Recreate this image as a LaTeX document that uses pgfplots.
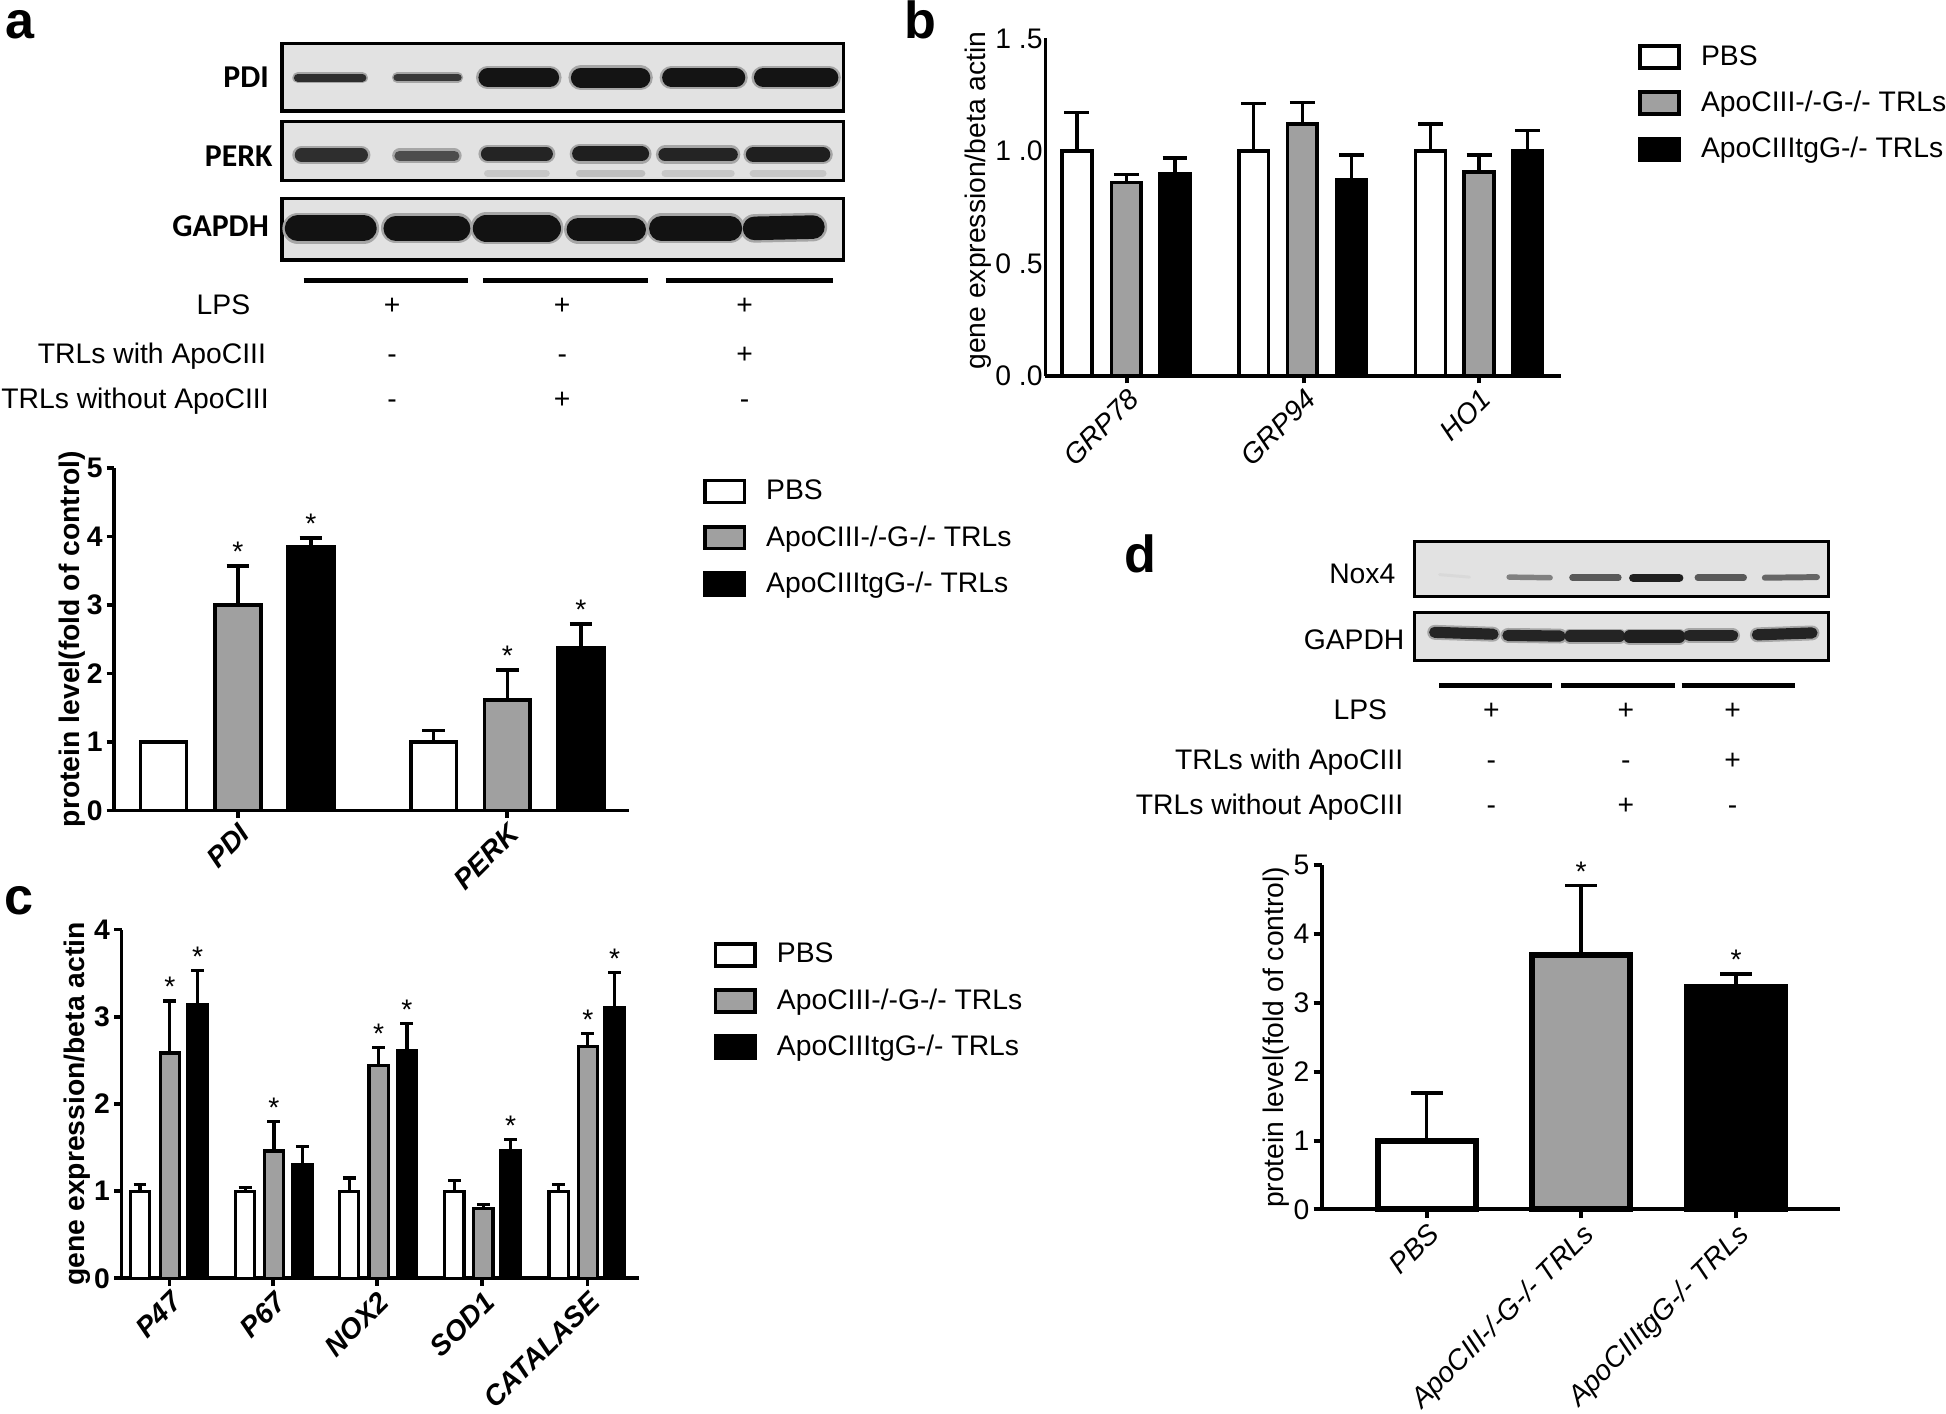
\documentclass[border=0pt]{standalone}
\usepackage{fontspec}
\setmainfont{Liberation Sans}
\newfontfamily\carlito{Carlito}
\usepackage{pgfplots}
\pgfplotsset{compat=1.18}
\definecolor{bargray}{RGB}{160,160,160}
\definecolor{blotbg}{RGB}{226,226,226}
\newcommand{\fs}{\fontsize{11.4}{13}\selectfont}
\pgfplotsset{
  gp/.style={anchor=south west, scale only axis, axis lines=left,
    axis line style={-, line width=1.5pt}, tick style={black, line width=1.5pt},
    tick align=outside, major tick length=3pt, enlargelimits=false, ymin=0, clip=false,
    /pgf/number format/assume math mode=true, tick label style={font=\fs},
    xticklabel style={rotate=45, anchor=north east, inner sep=1pt},
    yticklabel style={inner sep=1.5pt},
    legend cell align=left,
    legend style={draw=none, fill=none, inner sep=0pt, column sep=8pt, font=\fs,
      nodes={inner sep=0pt, minimum height=18.6pt}, anchor=north west}},
  boxlegend/.style={legend image code/.code={\draw[##1, line width=1.5pt] (0pt,-4.4pt) rectangle (16pt,4.4pt);}},
  bars/.style 2 args={ybar, bar shift=0pt, bar width=#1, draw=black, line width=#2, boxlegend,
    error bars/y dir=plus, error bars/y explicit},
  eb/.style 2 args={error bars/error bar style={line width=#1, black},
    error bars/error mark options={rotate=90, line width=#1, black, mark size=#2}},
  stars/.style={forget plot, draw=none, mark=none, nodes near coords={*},
    nodes near coords align=above, every node near coord/.append style={font=\fs, inner sep=1.5pt, black}},
  blot/.style={anchor=north west, scale only axis, xtick=\empty, ytick=\empty, line width=1.3pt,
    axis background/.style={fill=blotbg}, y dir=reverse, enlargelimits=false},
  halo/.style={line width=#1, black!35, line cap=round},
  band/.style 2 args={line width=#1, black!#2, line cap=round},
}
\begin{document}
\begin{tikzpicture}[x=0.5pt,y=-0.5pt]
\useasboundingbox (0,0) rectangle (1568,1139);

% ---------------- panel letters
\node[anchor=base west, font=\bfseries\fontsize{21}{22}\selectfont, inner sep=0pt] at (4,31) {a};
\node[anchor=base west, font=\bfseries\fontsize{21}{22}\selectfont, inner sep=0pt] at (728,31) {b};
\node[anchor=base west, font=\bfseries\fontsize{21}{22}\selectfont, inner sep=0pt] at (3,737) {c};
\node[anchor=base west, font=\bfseries\fontsize{21}{22}\selectfont, inner sep=0pt] at (906,461) {d};

% ---------------- canvas for the lane-group lines
\begin{axis}[anchor=south west, at={(0pt,-569.5pt)}, scale only axis, width=784pt, height=569.5pt,
  hide axis, xmin=0, xmax=1568, ymin=0, ymax=1139, y dir=reverse, clip=false]
\addplot[black, line width=2pt] coordinates {(244.6,226.2) (377,226.2)};
\addplot[black, line width=2pt] coordinates {(389,226.2) (521.9,226.2)};
\addplot[black, line width=2pt] coordinates {(536.6,226.2) (670.8,226.2)};
\addplot[black, line width=2pt] coordinates {(1159.6,552.5) (1250.6,552.5)};
\addplot[black, line width=2pt] coordinates {(1258,552.5) (1349.5,552.5)};
\addplot[black, line width=2pt] coordinates {(1355,552.5) (1446,552.5)};
\end{axis}

% ---------------- panel a blots
\begin{axis}[blot, at={(113.6pt,-17.45pt)}, width=226.25pt, height=27.25pt,
  xmin=227.2, xmax=679.7, ymin=34.9, ymax=89.4]
\addplot[halo=4.5pt] coordinates {(240,62.6) (292,62.6)};
\addplot[halo=4.2pt] coordinates {(320,62.6) (369,62.6)};
\addplot[halo=9.5pt] coordinates {(393,62.6) (443,62.6)};
\addplot[halo=10pt] coordinates {(468,62.6) (516,62.6)};
\addplot[halo=9.5pt] coordinates {(541,62.6) (593,62.6)};
\addplot[halo=9.5pt] coordinates {(615,62.6) (668,62.6)};
\addplot[band={3.2pt}{82}] coordinates {(240,62.6) (292,62.6)};
\addplot[band={3pt}{78}] coordinates {(320,62.6) (369,62.6)};
\addplot[band={7.5pt}{92}] coordinates {(393,62.6) (443,62.6)};
\addplot[band={8pt}{92}] coordinates {(468,62.6) (516,62.6)};
\addplot[band={7.5pt}{92}] coordinates {(541,62.6) (593,62.6)};
\addplot[band={7.5pt}{92}] coordinates {(615,62.6) (668,62.6)};
\end{axis}
\begin{axis}[blot, at={(113.6pt,-49pt)}, width=226.25pt, height=23.8pt,
  xmin=227.2, xmax=679.7, ymin=98, ymax=145.6]
\addplot[band={3pt}{22}] coordinates {(393,139.7) (440,139.7)};
\addplot[band={3pt}{25}] coordinates {(467,139.7) (517,139.7)};
\addplot[band={3pt}{22}] coordinates {(536,139.7) (589,139.7)};
\addplot[band={3pt}{22}] coordinates {(607,139.7) (663,139.7)};
\addplot[halo=7.5pt] coordinates {(243,124.9) (291,124.9)};
\addplot[halo=6pt] coordinates {(322,125.5) (366,125.5)};
\addplot[halo=7.5pt] coordinates {(393,124) (440,124)};
\addplot[halo=8pt] coordinates {(467,124) (517,124)};
\addplot[halo=7.5pt] coordinates {(536,124.5) (589,124.5)};
\addplot[halo=8pt] coordinates {(607,124.5) (663,124.5)};
\addplot[band={5.5pt}{82}] coordinates {(243,124.9) (291,124.9)};
\addplot[band={4.2pt}{70}] coordinates {(322,125.5) (366,125.5)};
\addplot[band={5.5pt}{86}] coordinates {(393,124) (440,124)};
\addplot[band={6pt}{88}] coordinates {(467,124) (517,124)};
\addplot[band={5.5pt}{86}] coordinates {(536,124.5) (589,124.5)};
\addplot[band={6pt}{88}] coordinates {(607,124.5) (663,124.5)};
\end{axis}
\begin{axis}[blot, at={(113.6pt,-79.9pt)}, width=226.25pt, height=24.85pt,
  xmin=227.2, xmax=679.7, ymin=159.8, ymax=209.5]
\addplot[halo=12.5pt] coordinates {(240,184) (293,184)};
\addplot[halo=12pt] coordinates {(319,184) (369,184)};
\addplot[halo=13pt] coordinates {(392,184) (441,184)};
\addplot[halo=11.5pt] coordinates {(466,185) (511,185)};
\addplot[halo=12pt] coordinates {(533,184) (588,184)};
\addplot[halo=11.5pt] coordinates {(608,184) (655,183)};
\addplot[band={10.5pt}{93}] coordinates {(240,184) (293,184)};
\addplot[band={10pt}{93}] coordinates {(319,184) (369,184)};
\addplot[band={11pt}{93}] coordinates {(392,184) (441,184)};
\addplot[band={9.5pt}{93}] coordinates {(466,185) (511,185)};
\addplot[band={10pt}{93}] coordinates {(533,184) (588,184)};
\addplot[band={9.5pt}{93}] coordinates {(608,184) (655,183)};
\end{axis}
\node[anchor=east, font=\carlito\bfseries\fontsize{12.8}{14}\selectfont, inner sep=0pt] at (217,62) {PDI};
\node[anchor=east, font=\carlito\bfseries\fontsize{12.8}{14}\selectfont, inner sep=0pt] at (220,126.2) {PERK};
\node[anchor=east, font=\carlito\bfseries\fontsize{12.8}{14}\selectfont, inner sep=0pt] at (217,182.6) {GAPDH};
% treatment rows a
\node[anchor=base east, font=\fs, inner sep=0pt] at (202,253.7) {LPS};
\node[anchor=base east, font=\fs, inner sep=0pt] at (214.7,292.6) {TRLs with ApoCIII};
\node[anchor=base east, font=\fs, inner sep=0pt] at (216.9,329.4) {TRLs without ApoCIII};
\foreach \xx/\s in {316/+, 453/+, 600/+} \node[anchor=base, font=\fs, inner sep=0pt] at (\xx,253.7) {\s};
\foreach \xx/\s in {316/-, 453/-, 600/+} \node[anchor=base, font=\fs, inner sep=0pt] at (\xx,292.6) {\s};
\foreach \xx/\s in {316/-, 453/+, 600/-} \node[anchor=base, font=\fs, inner sep=0pt] at (\xx,329.4) {\s};

% ---------------- panel a chart
\begin{axis}[gp, at={(46pt,-326.5pt)}, width=207.5pt, height=138pt,
  xmin=92, xmax=507, ymax=5, ytick={0,1,2,3,4,5},
  xtick={191.6,408.5}, xticklabels={PDI,PERK},
  tick label style={font=\bfseries\fs},
  xticklabel style={font=\bfseries\itshape\fs},
  ylabel={protein level(fold of control)},
  ylabel style={at={(axis description cs:-0.082,0.5)}, anchor=center, font=\bfseries\fs},
  legend style={at={(axis description cs:1.142,1.0)}},
  legend entries={PBS, ApoCIII-/-G-/- TRLs, ApoCIIItgG-/- TRLs}]
\addplot[bars={37}{1.5pt}, fill=white, eb={1.4pt}{4.5pt}] coordinates {(131.7,1.0) +- (0,0) (349.4,1.0) +- (0,0.165)};
\addplot[bars={37}{1.5pt}, fill=bargray, eb={1.4pt}{4.5pt}] coordinates {(191.6,3.0) +- (0,0.57) (408.8,1.61) +- (0,0.44)};
\addplot[bars={37}{1.5pt}, fill=black, eb={1.4pt}{4.5pt}] coordinates {(250.4,3.85) +- (0,0.13) (468.1,2.37) +- (0,0.35)};
\addplot[stars] coordinates {(191.6,3.57) (250.4,3.98) (408.8,2.05) (468.1,2.72)};
\end{axis}

% ---------------- panel b chart
\begin{axis}[gp, at={(421.2pt,-151.5pt)}, width=207.5pt, height=136pt,
  xmin=842.4, xmax=1257.4, ymax=1.5, ytick={0,0.5,1,1.5}, yticklabels={0 .0,0 .5,1 .0,1 .5},
  ytick style={draw=none}, yticklabel style={xshift=2.5pt, inner sep=0.5pt},
  xtick={908,1050.5,1191.8}, xticklabels={GRP78,GRP94,HO1},
  xticklabel style={font=\itshape\fs},
  ylabel={gene expression/beta actin},
  ylabel style={at={(axis description cs:-0.131,0.52)}, anchor=center, font=\fs},
  legend style={at={(axis description cs:1.149,1.015)}},
  legend entries={PBS, ApoCIII-/-G-/- TRLs, ApoCIIItgG-/- TRLs}]
\addplot[bars={24}{1.5pt}, fill=white, eb={1.4pt}{5pt}] coordinates {(867.6,1.0) +- (0,0.17) (1010.1,1.0) +- (0,0.21) (1152.6,1.0) +- (0,0.12)};
\addplot[bars={24}{1.5pt}, fill=bargray, eb={1.4pt}{5pt}] coordinates {(907.5,0.86) +- (0,0.035) (1049.4,1.12) +- (0,0.095) (1191.8,0.906) +- (0,0.077)};
\addplot[bars={24}{1.5pt}, fill=black, eb={1.4pt}{5pt}] coordinates {(946.7,0.90) +- (0,0.068) (1089.1,0.872) +- (0,0.11) (1230.6,1.0) +- (0,0.09)};
\end{axis}

% ---------------- panel c chart
\begin{axis}[gp, at={(49pt,-515pt)}, width=208.5pt, height=140.5pt,
  xmin=98, xmax=515, ymax=4, ytick={0,1,2,3,4},
  xtick={136.5,220.2,303.8,388.6,473.3}, xticklabels={P47,P67,NOX2,SOD1,CATALASE},
  tick label style={font=\bfseries\fs},
  xticklabel style={font=\bfseries\itshape\fs},
  ylabel={gene expression/beta actin},
  ylabel style={at={(axis description cs:-0.086,0.5)}, anchor=center, font=\bfseries\fs},
  legend style={at={(axis description cs:1.143,0.995)}},
  legend entries={PBS, ApoCIII-/-G-/- TRLs, ApoCIIItgG-/- TRLs}]
\addplot[bars={15.5}{1.3pt}, fill=white, eb={1.3pt}{2.6pt}] coordinates {(112.8,1.0) +- (0,0.08) (197.5,1.0) +- (0,0.04) (281.4,1.0) +- (0,0.15) (366.2,1.0) +- (0,0.12) (450.1,1.0) +- (0,0.08)};
\addplot[bars={15.5}{1.3pt}, fill=bargray, eb={1.3pt}{2.6pt}] coordinates {(136.8,2.585) +- (0,0.595) (220.7,1.46) +- (0,0.34) (305,2.44) +- (0,0.21) (389.4,0.80) +- (0,0.05) (473.6,2.66) +- (0,0.15)};
\addplot[bars={15.5}{1.3pt}, fill=black, eb={1.3pt}{2.6pt}] coordinates {(159.2,3.14) +- (0,0.39) (243.7,1.30) +- (0,0.21) (327.9,2.61) +- (0,0.31) (411.5,1.46) +- (0,0.13) (495.2,3.11) +- (0,0.40)};
\addplot[stars] coordinates {(136.8,3.18) (159.2,3.53) (220.7,1.80) (305,2.65) (327.9,2.92) (411.5,1.59) (473.6,2.81) (495.2,3.51)};
\end{axis}

% ---------------- panel d blots
\begin{axis}[blot, at={(570pt,-218.25pt)}, width=166.5pt, height=22.15pt,
  xmin=1140, xmax=1473, ymin=436.5, ymax=480.8]
\addplot[band={1.2pt}{15}] coordinates {(1160,463) (1184,465)};
\addplot[band={2.2pt}{50}] coordinates {(1216,465) (1249,465.5)};
\addplot[band={2.6pt}{65}] coordinates {(1267,465.5) (1304,465.5)};
\addplot[band={3.4pt}{88}] coordinates {(1316,465.5) (1353,465.5)};
\addplot[band={2.6pt}{65}] coordinates {(1368,465.5) (1405,465.5)};
\addplot[band={2.4pt}{60}] coordinates {(1422,465.5) (1464,465)};
\end{axis}
\begin{axis}[blot, at={(570pt,-246.85pt)}, width=166.5pt, height=19.35pt,
  xmin=1140, xmax=1473, ymin=493.7, ymax=532.4]
\addplot[halo=6pt] coordinates {(1156,509.5) (1203,511)};
\addplot[halo=6pt] coordinates {(1215,512) (1257,512.5)};
\addplot[halo=6pt] coordinates {(1265,512.5) (1305,512.5)};
\addplot[halo=6.5pt] coordinates {(1313,513) (1353,513)};
\addplot[halo=6pt] coordinates {(1361,512) (1396,512)};
\addplot[halo=6pt] coordinates {(1416,511.5) (1460,510)};
\addplot[band={4.5pt}{86}] coordinates {(1156,509.5) (1203,511)};
\addplot[band={4.5pt}{86}] coordinates {(1215,512) (1257,512.5)};
\addplot[band={4.5pt}{86}] coordinates {(1265,512.5) (1305,512.5)};
\addplot[band={5pt}{88}] coordinates {(1313,513) (1353,513)};
\addplot[band={4.5pt}{86}] coordinates {(1361,512) (1396,512)};
\addplot[band={4.5pt}{86}] coordinates {(1416,511.5) (1460,510)};
\end{axis}
\node[anchor=east, font=\fs, inner sep=0pt] at (1124.7,462.6) {Nox4};
\node[anchor=east, font=\fs, inner sep=0pt] at (1132,515.7) {GAPDH};
\node[anchor=base east, font=\fs, inner sep=0pt] at (1118,579.9) {LPS};
\node[anchor=base east, font=\fs, inner sep=0pt] at (1131,619.8) {TRLs with ApoCIII};
\node[anchor=base east, font=\fs, inner sep=0pt] at (1131,656.6) {TRLs without ApoCIII};
\foreach \xx/\s in {1201.6/+, 1310/+, 1396/+} \node[anchor=base, font=\fs, inner sep=0pt] at (\xx,579.9) {\s};
\foreach \xx/\s in {1201.6/-, 1310/-, 1396/+} \node[anchor=base, font=\fs, inner sep=0pt] at (\xx,619.8) {\s};
\foreach \xx/\s in {1201.6/-, 1310/+, 1396/-} \node[anchor=base, font=\fs, inner sep=0pt] at (\xx,656.6) {\s};

% ---------------- panel d chart
\begin{axis}[gp, at={(532.5pt,-487.25pt)}, width=208.75pt, height=138.75pt,
  xmin=1065, xmax=1482.5, ymax=5, ytick={0,1,2,3,4,5},
  major tick length=3.3pt, axis line style={-, line width=1.6pt}, tick style={black, line width=1.6pt},
  xtick={1149.6,1274,1398.8},
  xticklabels={PBS, ApoCIII-/-G-/- TRLs, ApoCIIItgG-/- TRLs},
  xticklabel style={font=\itshape\fs},
  ylabel={protein level(fold of control)},
  ylabel style={at={(axis description cs:-0.087,0.5)}, anchor=center, font=\fs}]
\addplot[bars={79}{2.4pt}, fill=white, eb={1.4pt}{6.4pt}] coordinates {(1149.6,1.0) +- (0,0.69)};
\addplot[bars={79}{2.4pt}, fill=bargray, eb={1.4pt}{6.4pt}] coordinates {(1274,3.69) +- (0,1.01)};
\addplot[bars={79}{2.4pt}, fill=black, eb={1.4pt}{6.4pt}] coordinates {(1398.8,3.23) +- (0,0.19)};
\addplot[stars] coordinates {(1274,4.70) (1398.8,3.42)};
\end{axis}
\end{tikzpicture}
\end{document}
